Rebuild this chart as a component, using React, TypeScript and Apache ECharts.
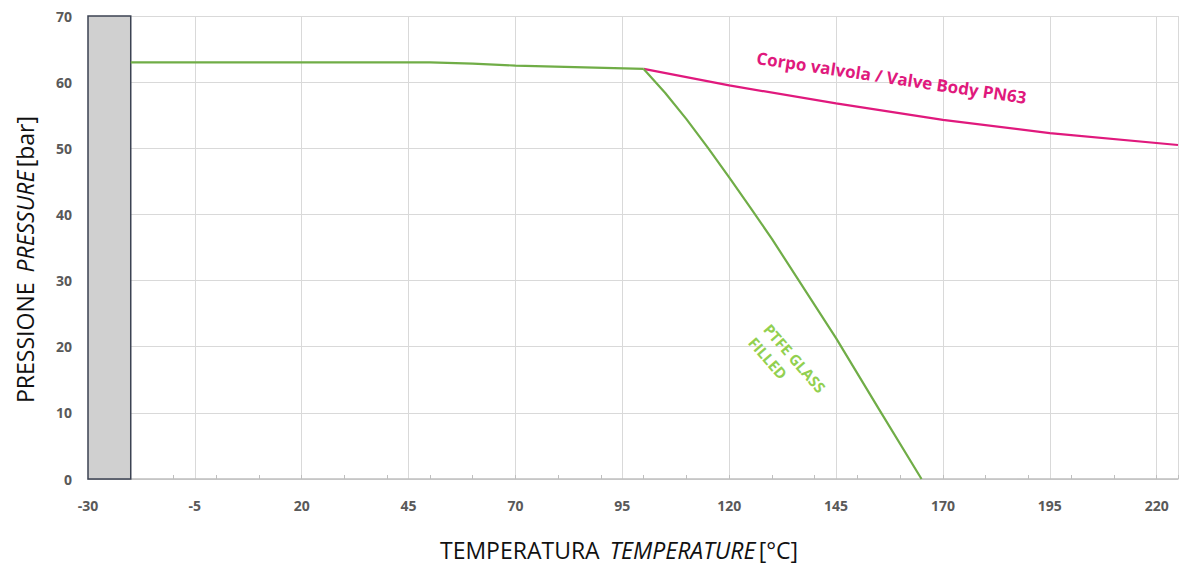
import React, { useEffect, useRef } from "react";
import * as echarts from "echarts";

// Axis ranges / ticks
const X_MIN = -30;
const X_MAX = 225;
const X_LABEL_STEP = 25;
const X_TICK_STEP = 10;
const Y_MIN = 0;
const Y_MAX = 70;
const Y_STEP = 10;

// Shaded range (below -20 °C not allowed)
const shadedX = [-30, -20];
const shadedY = [0, 70];

// Common curve (seats) up to 100 °C
const commonCurve: [number, number][] = [
  [-20, 63],
  [50, 63],
  [60, 62.8],
  [70, 62.5],
  [100, 62],
];

// Valve body PN63
const bodyCurve: [number, number][] = [
  [100, 62],
  [120, 59.5],
  [145, 56.8],
  [170, 54.3],
  [195, 52.3],
  [225, 50.5],
];

// PTFE glass filled seats
const ptfeCurve: [number, number][] = [
  [100, 62],
  [105, 58.4],
  [110, 54.4],
  [115, 50.1],
  [120, 45.6],
  [125, 41.0],
  [130, 36.3],
  [145, 21.3],
  [155, 10.6],
  [165, 0],
];

const bodyLabel = "Corpo valvola / Valve Body PN63";
const ptfeLabel = "PTFE GLASS\nFILLED";
const bodyLabelAt: [number, number] = [158, 60.7];
const ptfeLabelAt: [number, number] = [130.6, 24.1];

const GREEN = "#70ad47";
const PINK = "#e0197d";

export default function App() {
  const ref = useRef<HTMLDivElement>(null);
  useEffect(() => {
    if (!ref.current) return;
    const chart = echarts.init(ref.current, undefined, { renderer: "svg" });
    const labelStyle = {
      color: "#595959",
      fontFamily: "Open Sans",
      fontWeight: "bold" as const,
      fontSize: 14,
    };
    const rich = {
      n: { fontFamily: "Open Sans", fontSize: 23, color: "#111" },
      i: { fontFamily: "Open Sans", fontSize: 23, color: "#111", fontStyle: "italic" },
    };
    chart.setOption({
      animation: false,
      backgroundColor: "#ffffff",
      grid: { left: 88, right: 1, top: 16, bottom: 85 },
      xAxis: [
        {
          type: "value",
          min: X_MIN,
          max: X_MAX,
          interval: X_LABEL_STEP,
          position: "bottom",
          axisLine: { show: true, lineStyle: { color: "#bfbfbf", width: 1.5 } },
          axisTick: { show: false },
          axisLabel: { ...labelStyle, margin: 19, showMaxLabel: false },
          splitLine: { show: true, lineStyle: { color: "#d9d9d9", width: 1 } },
          name: "{n|TEMPERATURA}   {i|TEMPERATURE} {n|[°C]}",
          nameLocation: "middle",
          nameGap: 59,
          nameTextStyle: { padding: [0, 28, 0, 0], rich },
        },
        {
          type: "value",
          min: X_MIN,
          max: X_MAX,
          interval: X_TICK_STEP,
          position: "bottom",
          axisLine: { show: false },
          axisTick: { show: true, inside: true, length: 4, lineStyle: { color: "#bfbfbf" } },
          axisLabel: { show: false },
          splitLine: { show: false },
        },
      ],
      yAxis: {
        type: "value",
        min: Y_MIN,
        max: Y_MAX,
        interval: Y_STEP,
        axisLine: { show: false },
        axisTick: { show: false },
        axisLabel: { ...labelStyle, margin: 16 },
        splitLine: { show: true, lineStyle: { color: "#d9d9d9", width: 1 } },
        name: "{n|PRESSIONE}   {i|PRESSURE} {n|[bar]}",
        nameLocation: "middle",
        nameGap: 52,
        nameTextStyle: { padding: [0, 24, 0, 0], rich },
      },
      series: [
        {
          type: "line",
          name: "limit",
          data: [],
          xAxisIndex: 0,
          markArea: {
            silent: true,
            itemStyle: { color: "#d0d0d0", borderColor: "#3b4252", borderWidth: 1.5 },
            data: [[{ coord: [shadedX[0], shadedY[0]] }, { coord: [shadedX[1], shadedY[1]] }]],
          },
        },
        {
          type: "line",
          name: "body",
          data: bodyCurve,
          xAxisIndex: 0,
          symbol: "none",
          smooth: false,
          lineStyle: { color: PINK, width: 2.2 },
          z: 3,
        },
        {
          type: "line",
          name: "common",
          data: commonCurve,
          xAxisIndex: 0,
          symbol: "none",
          smooth: false,
          lineStyle: { color: GREEN, width: 2.2 },
          z: 4,
        },
        {
          type: "line",
          name: "ptfe",
          data: ptfeCurve,
          xAxisIndex: 0,
          symbol: "none",
          smooth: false,
          lineStyle: { color: GREEN, width: 2.2 },
          z: 4,
        },
      ],
    });

    const bp = chart.convertToPixel({ xAxisIndex: 0, yAxisIndex: 0 }, bodyLabelAt) as number[];
    const pp = chart.convertToPixel({ xAxisIndex: 0, yAxisIndex: 0 }, ptfeLabelAt) as number[];
    chart.setOption({
      graphic: [
        {
          type: "text",
          x: bp[0],
          y: bp[1],
          rotation: -0.148,
          style: {
            text: bodyLabel,
            fill: PINK,
            font: "bold 17px 'Open Sans'",
            align: "center",
            verticalAlign: "middle",
          },
        },
        {
          type: "text",
          x: pp[0],
          y: pp[1],
          rotation: -0.855,
          style: {
            text: ptfeLabel,
            fill: "#92d050",
            font: "bold 15px 'Open Sans'",
            align: "left",
            verticalAlign: "top",
            lineHeight: 20,
          },
        },
      ],
    });
    return () => chart.dispose();
  }, []);
  return (
    <div
      ref={ref}
      style={{ position: "absolute", left: 0, top: 0, width: 1179, height: 566 }}
    />
  );
}
